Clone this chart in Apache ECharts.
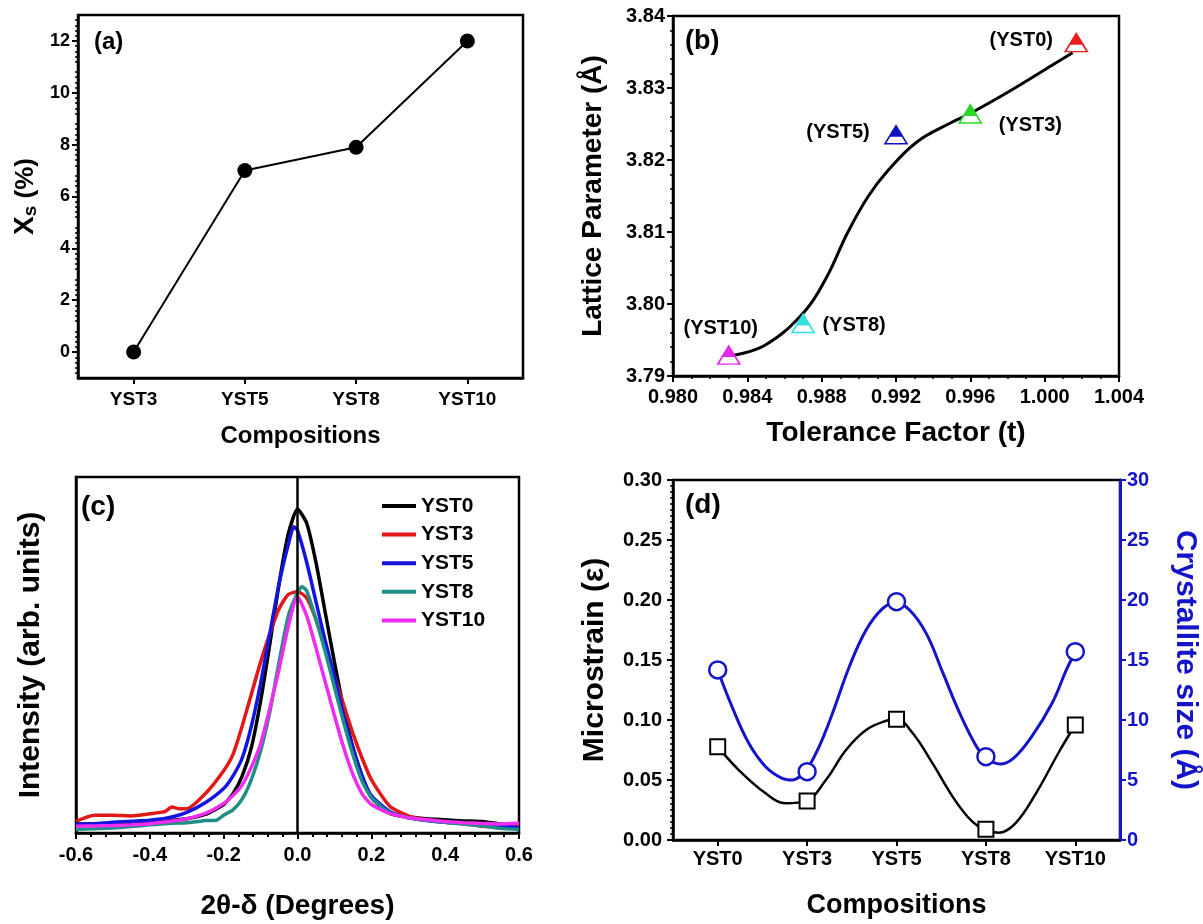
<!DOCTYPE html>
<html>
<head>
<meta charset="utf-8">
<script src="https://cdn.jsdelivr.net/npm/echarts@6/dist/echarts.min.js"></script>
<style>
html,body{margin:0;padding:0;background:#fff;}
#chart{width:1203px;height:924px;}
</style>
</head>
<body>
<div id="chart"></div>
<script>
// ---------- DATA ----------
// (a)
const aCategories = ['YST3', 'YST5', 'YST8', 'YST10'];
const aXs = [0, 7, 7.9, 12];
const aTickValues = [0, 2, 4, 6, 8, 10, 12];

// (b)
const bNames = ['(YST0)', '(YST3)', '(YST5)', '(YST8)', '(YST10)'];
const bTolerance = [1.0017, 0.996, 0.992, 0.987, 0.983];
const bLattice = [3.8363, 3.8264, 3.8235, 3.7973, 3.7929];
const bFitT = [0.98309, 0.98497, 0.98707, 0.98828, 0.98938, 0.99049, 0.99159, 0.99314, 0.99490, 0.99601, 0.99822, 1.00042, 1.00150];
const bFitA = [3.79278, 3.79431, 3.79893, 3.80379, 3.80982, 3.81490, 3.81861, 3.82254, 3.82510, 3.82649, 3.82972, 3.83319, 3.83490];

// (c)
const cNames = ['YST0', 'YST3', 'YST5', 'YST8', 'YST10'];
const cYST0 = [[-0.6,2.5],[-0.55,2.6],[-0.5,2.8],[-0.45,3.0],[-0.4,3.2],[-0.35,3.5],[-0.3,4.0],[-0.25,5.2],[-0.2,8.0],[-0.175,11],[-0.15,16],[-0.125,24],[-0.1,37],[-0.075,53],[-0.05,70],[-0.025,84],[0,91],[0.025,87],[0.05,76],[0.075,62],[0.1,48],[0.125,35],[0.15,24],[0.175,16],[0.2,10],[0.25,5.5],[0.3,4.5],[0.35,4.0],[0.4,3.7],[0.45,3.4],[0.5,3.2],[0.55,2.5],[0.6,2.0]];
const cYST3 = [[-0.6,3.3],[-0.55,5.0],[-0.5,5.0],[-0.45,4.8],[-0.4,5.4],[-0.36,6.0],[-0.34,7.3],[-0.32,6.8],[-0.3,6.8],[-0.25,11],[-0.2,17.5],[-0.175,22],[-0.15,30],[-0.125,39],[-0.1,48],[-0.075,56],[-0.05,63],[-0.025,67],[0,67.8],[0.025,66],[0.05,60],[0.075,52],[0.1,44],[0.125,36],[0.15,28],[0.175,21],[0.2,15],[0.25,7.5],[0.3,4.8],[0.35,3.7],[0.4,3.0],[0.45,2.6],[0.5,1.9],[0.55,1.7],[0.6,1.9]];
const cYST5 = [[-0.6,2.5],[-0.55,2.6],[-0.5,3.0],[-0.45,3.3],[-0.4,3.6],[-0.35,4.3],[-0.3,5.8],[-0.25,8.5],[-0.2,12.5],[-0.175,16],[-0.15,21],[-0.125,30],[-0.1,42],[-0.075,56],[-0.05,70],[-0.025,81],[-0.01,86],[0,85],[0.025,76],[0.05,65],[0.075,54],[0.1,44],[0.125,33],[0.15,24],[0.175,16],[0.2,10.5],[0.25,6],[0.3,4.3],[0.35,3.5],[0.4,3.0],[0.45,2.7],[0.5,2.4],[0.55,2.0],[0.6,1.5]];
const cYST8 = [[-0.6,1.0],[-0.55,1.2],[-0.5,1.4],[-0.45,1.8],[-0.4,2.3],[-0.35,2.7],[-0.3,2.9],[-0.27,3.2],[-0.25,3.5],[-0.22,3.6],[-0.2,5.0],[-0.175,6.5],[-0.15,9.5],[-0.125,15],[-0.1,23],[-0.075,34],[-0.05,48],[-0.025,61],[0,67.5],[0.012,69.2],[0.025,68],[0.05,60],[0.075,51],[0.1,41],[0.125,31],[0.15,22],[0.175,14.5],[0.2,10],[0.25,5.6],[0.3,4.3],[0.35,3.6],[0.4,3.0],[0.45,2.5],[0.5,2.0],[0.55,1.3],[0.6,1.0]];
const cYST10 = [[-0.6,1.9],[-0.55,2.0],[-0.5,2.1],[-0.45,2.3],[-0.4,2.6],[-0.35,3.2],[-0.3,4.0],[-0.25,5.5],[-0.2,8.3],[-0.175,10.5],[-0.15,13.5],[-0.125,18.5],[-0.1,25],[-0.075,35],[-0.05,46],[-0.025,58],[0,66.4],[0.025,61],[0.05,52],[0.075,42.5],[0.1,33],[0.125,24],[0.15,16.5],[0.175,11],[0.2,8],[0.25,5.5],[0.3,4.3],[0.35,3.7],[0.4,3.2],[0.45,2.9],[0.5,2.7],[0.55,2.5],[0.6,2.8]];

// (d)
const dCategories = ['YST0', 'YST3', 'YST5', 'YST8', 'YST10'];
const dStrain = [0.0778, 0.0325, 0.1006, 0.0089, 0.0958];
const dSize = [14.17, 5.69, 19.86, 6.94, 15.69];
// fitted curves (x in category index units)
const dStrainFitX = [0, 0.236, 0.536, 0.761, 0.992, 1.21, 1.435, 1.66, 1.885, 2.0, 2.18, 2.40, 2.62, 2.80, 2.93, 2.99, 3.14, 3.33, 3.56, 3.83, 4.0];
const dStrainFitY = [0.0778, 0.0583, 0.0389, 0.0306, 0.0328, 0.050, 0.075, 0.0917, 0.0994, 0.1006, 0.0892, 0.0642, 0.0370, 0.0190, 0.0105, 0.0089, 0.0061, 0.0139, 0.0389, 0.075, 0.0958];
const dSizeFitX = [0, 0.161, 0.348, 0.536, 0.723, 0.835, 0.947, 0.992, 1.135, 1.284, 1.472, 1.66, 1.846, 1.989, 2.146, 2.334, 2.52, 2.708, 2.896, 2.997, 3.157, 3.307, 3.51, 3.74, 3.90, 4.0];
const dSizeFitY = [14.17, 11.1, 8.06, 6.11, 5.14, 5.0, 5.42, 5.75, 7.78, 10.56, 14.44, 17.5, 19.3, 19.78, 19.17, 17.2, 13.9, 10.56, 7.78, 6.89, 6.33, 6.80, 8.60, 11.4, 14.17, 15.69];

// ---------- STYLE ----------
const FF = 'Liberation Sans, Arial, sans-serif';
const BLK = '#000';
const BLUE = '#1414c8';
const AXW = 2.5;

function axisCommon(fs, extra) {
  return Object.assign({
    axisLine: { show: true, onZero: false, lineStyle: { color: BLK, width: AXW } },
    axisTick: { show: true, inside: false, length: 6, lineStyle: { color: BLK, width: 2 } },
    axisLabel: { color: BLK, fontFamily: FF, fontWeight: 'bold', fontSize: fs },
    splitLine: { show: false },
    nameTextStyle: { color: BLK, fontFamily: FF, fontWeight: 'bold' }
  }, extra);
}

const chart = echarts.init(document.getElementById('chart'), null, { renderer: 'canvas' });

const bColors = ['#e81e1e', '#2ad82a', '#1010c0', '#2ee0e0', '#e826e8'];
const bLabelOffsets = [[-55, -2], [60, 12], [-58, -2], [51, 2], [-8, -27]];
const cColors = ['#000000', '#e01818', '#1414e0', '#1f8f86', '#f02cf0'];

const option = {
  backgroundColor: '#ffffff',
  animation: false,
  grid: [
    { left: 78, top: 15, width: 445, height: 363, show: true, borderColor: BLK, borderWidth: AXW },
    { left: 673, top: 16, width: 446, height: 360, show: true, borderColor: BLK, borderWidth: AXW },
    { left: 76, top: 477, width: 443, height: 356, show: true, borderColor: BLK, borderWidth: AXW },
    { left: 673, top: 480, width: 447, height: 360, show: true, borderColor: BLK, borderWidth: AXW }
  ],
  xAxis: [
    axisCommon(19, {
      gridIndex: 0, type: 'category', data: aCategories, boundaryGap: true,
      axisTick: { show: true, alignWithLabel: true, length: 6, lineStyle: { color: BLK, width: 2 } },
      axisLabel: { color: BLK, fontFamily: FF, fontWeight: 'bold', fontSize: 19, margin: 12 },
      name: 'Compositions', nameLocation: 'middle', nameGap: 46,
      nameTextStyle: { color: BLK, fontFamily: FF, fontWeight: 'bold', fontSize: 24 }
    }),
    axisCommon(20, {
      gridIndex: 1, type: 'value', min: 0.980, max: 1.004, interval: 0.004,
      minorTick: { show: true, splitNumber: 4, length: 3, lineStyle: { color: BLK, width: 1.5 } },
      axisLabel: { color: BLK, fontFamily: FF, fontWeight: 'bold', fontSize: 20, margin: 11, formatter: v => v.toFixed(3) },
      name: 'Tolerance Factor (t)', nameLocation: 'middle', nameGap: 43,
      nameTextStyle: { color: BLK, fontFamily: FF, fontWeight: 'bold', fontSize: 28 }
    }),
    axisCommon(20, {
      gridIndex: 2, type: 'value', min: -0.6, max: 0.6, interval: 0.2,
      minorTick: { show: true, splitNumber: 5, length: 4, lineStyle: { color: BLK, width: 2 } },
      axisLabel: { color: BLK, fontFamily: FF, fontWeight: 'bold', fontSize: 20, margin: 12, formatter: v => v.toFixed(1) },
      name: '2θ-δ (Degrees)', nameLocation: 'middle', nameGap: 59,
      nameTextStyle: { color: BLK, fontFamily: FF, fontWeight: 'bold', fontSize: 28 }
    }),
    axisCommon(20, {
      gridIndex: 3, type: 'category', data: dCategories, boundaryGap: true,
      axisTick: { show: true, alignWithLabel: true, length: 6, lineStyle: { color: BLK, width: 2 } },
      axisLabel: { color: BLK, fontFamily: FF, fontWeight: 'bold', fontSize: 20, margin: 9 },
      name: 'Compositions', nameLocation: 'middle', nameGap: 52,
      nameTextStyle: { color: BLK, fontFamily: FF, fontWeight: 'bold', fontSize: 27 }
    }),
    // hidden value axis for the fitted curves of (d)
    { gridIndex: 3, type: 'value', min: -0.5, max: 4.5, show: false }
  ],
  yAxis: [
    axisCommon(18, {
      gridIndex: 0, type: 'value', min: -1, max: 13, interval: 1,
      axisTick: { show: true, length: 6, customValues: aTickValues, lineStyle: { color: BLK, width: 2 } },
      minorTick: { show: true, splitNumber: 5, length: 3, lineStyle: { color: BLK, width: 1.5 } },
      axisLabel: { color: BLK, fontFamily: FF, fontWeight: 'bold', fontSize: 18, margin: 8, customValues: aTickValues },
      name: '{x|X}{s|s}{p| (%)}', nameLocation: 'middle', nameGap: 38, nameRotate: 90,
      nameTextStyle: {
        color: BLK, fontFamily: FF, fontWeight: 'bold',
        rich: {
          x: { fontSize: 28, fontFamily: FF, fontWeight: 'bold', color: BLK },
          s: { fontSize: 19, fontFamily: FF, fontWeight: 'bold', color: BLK, padding: [10, 0, 0, 0] },
          p: { fontSize: 26, fontFamily: FF, fontWeight: 'bold', color: BLK }
        }
      }
    }),
    axisCommon(20, {
      gridIndex: 1, type: 'value', min: 3.79, max: 3.84, interval: 0.01,
      minorTick: { show: true, splitNumber: 5, length: 3, lineStyle: { color: BLK, width: 1.5 } },
      axisLabel: { color: BLK, fontFamily: FF, fontWeight: 'bold', fontSize: 20, margin: 8, formatter: v => v.toFixed(2) },
      name: 'Lattice Parameter (Å)', nameLocation: 'middle', nameGap: 66, nameRotate: 90,
      nameTextStyle: { color: BLK, fontFamily: FF, fontWeight: 'bold', fontSize: 28 }
    }),
    axisCommon(20, {
      gridIndex: 2, type: 'value', min: 0, max: 100,
      axisTick: { show: false }, axisLabel: { show: false },
      name: 'Intensity (arb. units)', nameLocation: 'middle', nameGap: 30, nameRotate: 90,
      nameTextStyle: { color: BLK, fontFamily: FF, fontWeight: 'bold', fontSize: 30 }
    }),
    axisCommon(20, {
      gridIndex: 3, type: 'value', min: 0, max: 0.30, interval: 0.05, position: 'left',
      minorTick: { show: true, splitNumber: 10, length: 3, lineStyle: { color: BLK, width: 1.5 } },
      axisLabel: { color: BLK, fontFamily: FF, fontWeight: 'bold', fontSize: 20, margin: 11, formatter: v => v.toFixed(2) },
      name: 'Microstrain (ε)', nameLocation: 'middle', nameGap: 63, nameRotate: 90,
      nameTextStyle: { color: BLK, fontFamily: FF, fontWeight: 'bold', fontSize: 30 }
    }),
    {
      gridIndex: 3, type: 'value', min: 0, max: 30, interval: 5, position: 'right',
      axisLine: { show: true, onZero: false, lineStyle: { color: BLUE, width: AXW + 0.5 } },
      axisTick: { show: true, inside: false, length: 6, lineStyle: { color: BLUE, width: 2 } },
      axisLabel: { color: BLUE, fontFamily: FF, fontWeight: 'bold', fontSize: 20, margin: 7 },
      splitLine: { show: false },
      name: 'Crystallite size (Å)', nameLocation: 'middle', nameGap: 50, nameRotate: -90,
      nameTextStyle: { color: BLUE, fontFamily: FF, fontWeight: 'bold', fontSize: 30 }
    }
  ],
  legend: {
    data: cNames,
    orient: 'vertical',
    left: 377, top: 489,
    icon: 'rect', itemWidth: 34, itemHeight: 4, itemGap: 4.6,
    textStyle: { color: BLK, fontFamily: FF, fontWeight: 'bold', fontSize: 21, lineHeight: 24 }
  },
  graphic: [
    { type: 'text', left: 94, top: 30, style: { text: '(a)', font: 'bold 24px ' + FF, fill: BLK } },
    { type: 'text', left: 685, top: 28, style: { text: '(b)', font: 'bold 27px ' + FF, fill: BLK } },
    { type: 'text', left: 81, top: 493, style: { text: '(c)', font: 'bold 28px ' + FF, fill: BLK } },
    { type: 'text', left: 685, top: 491, style: { text: '(d)', font: 'bold 28px ' + FF, fill: BLK } }
  ],
  series: [
    // (a)
    {
      type: 'line', xAxisIndex: 0, yAxisIndex: 0, data: aXs,
      symbol: 'circle', symbolSize: 15,
      lineStyle: { color: BLK, width: 2 }, itemStyle: { color: BLK }
    },
    // (b) fit curve
    {
      type: 'line', xAxisIndex: 1, yAxisIndex: 1, smooth: 0.4, showSymbol: false,
      data: bFitT.map((t, i) => [t, bFitA[i]]),
      lineStyle: { color: BLK, width: 3 }, z: 2
    },
    // (b) open triangles with labels
    {
      type: 'scatter', xAxisIndex: 1, yAxisIndex: 1, symbol: 'triangle', symbolSize: [22, 18], z: 3,
      itemStyle: { opacity: 1 },
      data: bTolerance.map((t, i) => ({
        value: [t, bLattice[i]],
        itemStyle: { color: '#ffffff', borderColor: bColors[i], borderWidth: 1.6, opacity: 1 },
        label: {
          show: true, position: 'inside', offset: bLabelOffsets[i], formatter: bNames[i],
          color: '#000000', opacity: 1, fontFamily: FF, fontWeight: 'bold', fontSize: 20
        }
      }))
    },
    // (b) filled upper part of triangles
    {
      type: 'scatter', xAxisIndex: 1, yAxisIndex: 1, symbol: 'triangle', symbolSize: [14, 11],
      symbolOffset: [0, -3.5], z: 4, silent: true,
      data: bTolerance.map((t, i) => ({ value: [t, bLattice[i]], itemStyle: { color: bColors[i], opacity: 1 } }))
    },
    // (c)
    ...[cYST0, cYST3, cYST5, cYST8, cYST10].map((d, i) => ({
      name: cNames[i], type: 'line', xAxisIndex: 2, yAxisIndex: 2, showSymbol: false,
      smooth: 0.2, data: d, color: cColors[i],
      lineStyle: { color: cColors[i], width: 3.5 },
      markLine: i === 0 ? {
        silent: true, symbol: 'none', label: { show: false },
        lineStyle: { color: BLK, width: 2.5, type: 'solid' },
        data: [{ xAxis: 0 }]
      } : undefined
    })),
    // (d) fitted curves
    {
      type: 'line', xAxisIndex: 4, yAxisIndex: 3, showSymbol: false, smooth: 0.4,
      data: dStrainFitX.map((x, i) => [x, dStrainFitY[i]]),
      lineStyle: { color: BLK, width: 2.5 }, z: 2
    },
    {
      type: 'line', xAxisIndex: 4, yAxisIndex: 4, showSymbol: false, smooth: 0.4,
      data: dSizeFitX.map((x, i) => [x, dSizeFitY[i]]),
      lineStyle: { color: BLUE, width: 3 }, z: 2
    },
    // (d) markers
    {
      type: 'scatter', xAxisIndex: 3, yAxisIndex: 3, data: dStrain, z: 3,
      symbol: 'rect', symbolSize: 15,
      itemStyle: { color: '#ffffff', borderColor: BLK, borderWidth: 2, opacity: 1 }
    },
    {
      type: 'scatter', xAxisIndex: 3, yAxisIndex: 4, data: dSize, z: 3,
      symbol: 'circle', symbolSize: 17,
      itemStyle: { color: '#ffffff', borderColor: BLUE, borderWidth: 2.5, opacity: 1 }
    }
  ]
};
chart.setOption(option);
</script>
</body>
</html>
